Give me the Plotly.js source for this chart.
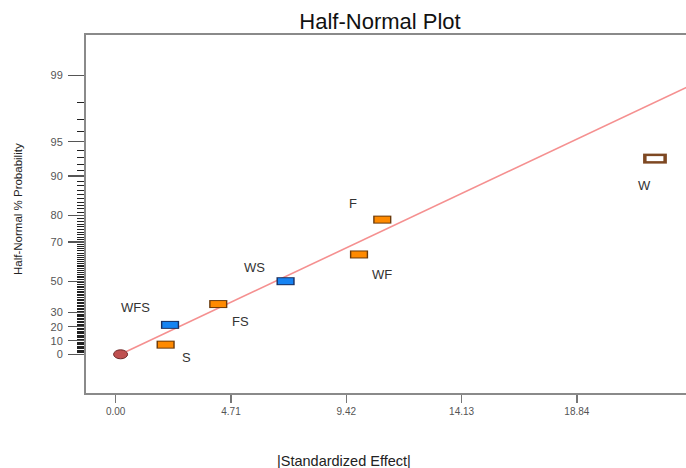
<!DOCTYPE html>
<html><head><meta charset="utf-8">
<script src="https://cdn.plot.ly/plotly-3.0.1.min.js"></script>
<style>html,body{margin:0;padding:0;background:#fff;overflow:hidden}</style>
</head><body><div id="chart" style="width:686px;height:468px"></div>
<script>
// ---- data ----
const effectNames = ['S','WFS','FS','WS','WF','F','W'];
const effectValues = [2.04, 2.22, 4.19, 6.94, 9.94, 10.89, 22.03];       // |Standardized Effect|
const effectProbability = [7.1, 21.4, 35.7, 50.0, 64.3, 78.6, 92.9];     // Half-Normal % Probability
const effectGroup = ['positive','negative','positive','negative','positive','positive','large'];
const errorValues = [0.2];
const errorProbability = [0];
const fitLineEffect = [0.2, 26.0];
const fitLineProbability = [0, 99.4];
const yTickPercent = [0, 10, 20, 30, 50, 70, 80, 90, 95, 99];
const xTickValues = [0, 4.71, 9.42, 14.13, 18.84];
const xTickLabels = ['0.00', '4.71', '9.42', '14.13', '18.84'];

// ---- styling (kept apart from data) ----
const labelShift = [[21,-13],[-35,17],[22,-17],[-31,14],[23,-20],[-29,16],[-10,-27]];
const groupStyle = {
  positive: {border:'#6b3a0a', fill:'#ff8a00', outer:13, outerW:8, inner:11, innerW:6},
  negative: {border:'#1c2f5e', fill:'#1683f2', outer:13, outerW:8, inner:11, innerW:6},
  large:    {border:'#7e4822', fill:'#ffffff', outer:17, outerW:10, inner:12, innerW:5}
};

// half-normal probability scale: % -> z
function invNorm(p){
  const a=[-3.969683028665376e+01,2.209460984245205e+02,-2.759285104469687e+02,1.383577518672690e+02,-3.066479806614716e+01,2.506628277459239e+00];
  const b=[-5.447609879822406e+01,1.615858368580409e+02,-1.556989798598866e+02,6.680131188771972e+01,-1.328068155288572e+01];
  const c=[-7.784894002430293e-03,-3.223964580411365e-01,-2.400758277161838e+00,-2.549732539343734e+00,4.374664141464968e+00,2.938163982698783e+00];
  const d=[7.784695709041462e-03,3.224671290700398e-01,2.445134137142996e+00,3.754408661907416e+00];
  const pl=0.02425, ph=1-pl; let q,r;
  if(p<pl){q=Math.sqrt(-2*Math.log(p));return (((((c[0]*q+c[1])*q+c[2])*q+c[3])*q+c[4])*q+c[5])/((((d[0]*q+d[1])*q+d[2])*q+d[3])*q+1);}
  if(p<=ph){q=p-0.5;r=q*q;return (((((a[0]*r+a[1])*r+a[2])*r+a[3])*r+a[4])*r+a[5])*q/(((((b[0]*r+b[1])*r+b[2])*r+b[3])*r+b[4])*r+1);}
  q=Math.sqrt(-2*Math.log(1-p));return -(((((c[0]*q+c[1])*q+c[2])*q+c[3])*q+c[4])*q+c[5])/((((d[0]*q+d[1])*q+d[2])*q+d[3])*q+1);
}
const hn = pct => invNorm(0.5 + pct/200);

const minorPercent = [];
for (let i = 1; i <= 98; i++) if (!yTickPercent.includes(i)) minorPercent.push(i);

const traces = [];
traces.push({
  x: fitLineEffect, y: fitLineProbability.map(hn), mode:'lines', type:'scatter',
  line:{color:'#f59090', width:1.6}, hoverinfo:'skip', showlegend:false
});
Object.keys(groupStyle).forEach(g => {
  const idx = effectNames.map((n,i)=>i).filter(i => effectGroup[i] === g);
  const xs = idx.map(i => effectValues[i]);
  const ys = idx.map(i => hn(effectProbability[i]));
  const st = groupStyle[g];
  traces.push({x:xs, y:ys, mode:'markers', type:'scatter', showlegend:false, hoverinfo:'skip',
    marker:{symbol:'line-ew-open', size:st.outer, color:st.border, line:{color:st.border, width:st.outerW}}});
  traces.push({x:xs, y:ys, mode:'markers', type:'scatter', showlegend:false,
    text: idx.map(i => effectNames[i]),
    marker:{symbol:'line-ew-open', size:st.inner, color:st.fill, line:{color:st.fill, width:st.innerW}}});
});

const shapes = errorValues.map((v,i) => ({
  type:'circle', xref:'x', yref:'y', xsizemode:'pixel', ysizemode:'pixel',
  xanchor: v, yanchor: hn(errorProbability[i]), x0:-7, x1:7, y0:-4.5, y1:4.5,
  fillcolor:'#bf5050', line:{color:'#6e2a2a', width:1}
}));

const annotations = effectNames.map((n,i) => ({
  x: effectValues[i], y: hn(effectProbability[i]), xref:'x', yref:'y', text:n, showarrow:false,
  xshift: labelShift[i][0], yshift: labelShift[i][1],
  font:{family:'Liberation Sans, Arial, sans-serif', size:13, color:'#333'}
}));
annotations.push({text:'|Standardized Effect|', xref:'paper', yref:'paper', x:(344-86)/600, y:-(461-393)/358,
  xanchor:'center', yanchor:'middle', showarrow:false, font:{family:'Liberation Sans, Arial, sans-serif', size:14.5, color:'#222'}});
annotations.push({text:'Half-Normal % Probability', xref:'paper', yref:'paper', x:-(86-18)/600, y:(393-209)/358,
  xanchor:'center', yanchor:'middle', textangle:-90, showarrow:false,
  font:{family:'Liberation Sans Narrow, Arial Narrow, Liberation Sans, Arial, sans-serif', size:11.5, color:'#222'}});

const layout = {
  width:686, height:468,
  margin:{l:86, r:0, t:35, b:75},
  paper_bgcolor:'#fff', plot_bgcolor:'#fff',
  title:{text:'Half-Normal Plot', x:380/686, xanchor:'center', xref:'container', yref:'container', y:1-21/468, yanchor:'middle',
    font:{family:'Liberation Sans, Arial, sans-serif', size:22, color:'#111'}},
  xaxis:{range:[-1.213, 23.297], tickmode:'array', tickvals:xTickValues, ticktext:xTickLabels,
    ticks:'outside', ticklen:8, tickwidth:1.5, tickcolor:'#777', showline:true, linecolor:'#8a8a8a', linewidth:2, mirror:true,
    showgrid:false, zeroline:false, tickfont:{family:'Liberation Sans, Arial, sans-serif', size:10, color:'#555'}},
  yaxis:{range:[-0.357, 2.946], tickmode:'array', tickvals:yTickPercent.map(hn), ticktext:yTickPercent.map(String),
    ticks:'outside', ticklen:16, tickwidth:1.2, tickcolor:'#555', showline:true, linecolor:'#8a8a8a', linewidth:2, mirror:false,
    showgrid:false, zeroline:false, ticklabelstandoff:3, tickfont:{family:'Liberation Sans, Arial, sans-serif', size:11, color:'#555'},
    minor:{tickmode:'array', tickvals:minorPercent.map(hn), ticks:'outside', ticklen:7, tickwidth:1, tickcolor:'#222', showgrid:false}},
  shapes: shapes,
  annotations: annotations,
  showlegend:false
};
Plotly.newPlot('chart', traces, layout, {displayModeBar:false, staticPlot:true});
</script></body></html>
